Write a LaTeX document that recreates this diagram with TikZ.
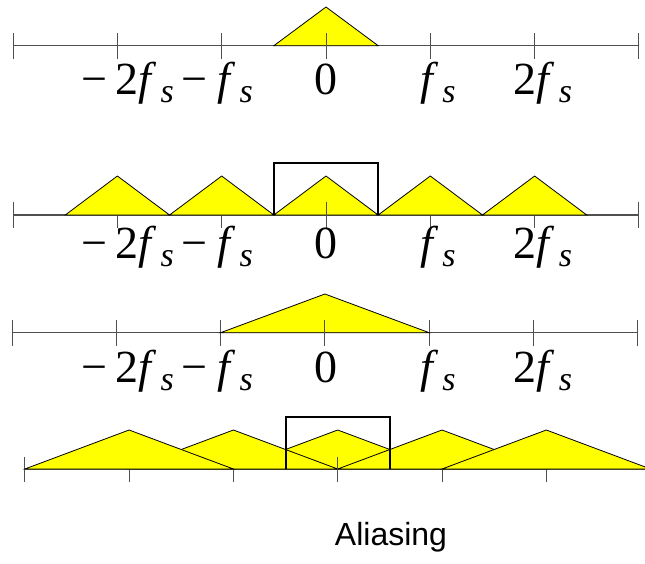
\documentclass[tikz,border=0pt]{standalone}
\usepackage{fontspec}
\setmainfont{Liberation Serif}
\newfontfamily\sansf{Liberation Sans}
\definecolor{yel}{RGB}{255,255,0}
\definecolor{axc}{RGB}{80,80,80}
\newcommand{\fsub}{\textit{f}\hspace{4pt}\raisebox{-8pt}{\fontsize{34}{34}\selectfont\textit{s}}}
\newcommand{\labrow}[2]{%
  \node[lab] (#1a) at (81.5,#2) {−\hspace{8pt}2\fsub};
  \node[lab] (#1b) at (181.5,#2) {−\hspace{10pt}\fsub};
  \node[lab] (#1c) at (314,#2) {0};
  \node[lab] (#1d) at (420,#2) {\fsub};
  \node[lab] (#1e) at (513.5,#2) {2\fsub};
}
\begin{document}
\begin{tikzpicture}[x=1pt,y=-1pt,
  lab/.style={font=\fontsize{46}{46}\selectfont, inner sep=0pt, anchor=base west},
  ax/.style={draw=axc, line width=1.2pt},
  tck/.style={draw=axc, line width=1pt},
  tri/.style={fill=yel, draw=black, line width=0.8pt, line join=miter},
  win/.style={draw=black, line width=2pt}]
\useasboundingbox (0,0) rectangle (645,563);

% ---------- Row 1 ----------
\draw[ax] (13.1,45.7) -- (638.9,45.7);
\foreach \x in {13.1,117.4,221.7,430.3,534.6,638.9}
  \draw[tck] (\x,33) -- (\x,59);
\filldraw[tri] (273.85,45.7) -- (326,7) -- (378.15,45.7) -- cycle;
\draw[tck] (326,33) -- (326,59);
\labrow{r1}{94}

% ---------- Row 2 ----------
\draw[ax] (13.1,215) -- (638.9,215);
\foreach \x in {13.1,117.4,221.7,326,430.3,534.6,638.9}
  \draw[tck] (\x,202) -- (\x,228);
\foreach \c in {117.4,221.7,326,430.3,534.6}
  \filldraw[tri] (\c-52.15,215) -- (\c,176) -- (\c+52.15,215) -- cycle;
\draw[tck] (326,202) -- (326,228);
\draw[win] (273.85,215) -- (273.85,162.7) -- (378.15,162.7) -- (378.15,215);
\labrow{r2}{258}

% ---------- Row 3 ----------
\draw[ax] (12.0,332.7) -- (637.8,332.7);
\foreach \x in {12.0,116.3,220.6,429.2,533.5,637.8}
  \draw[tck] (\x,320) -- (\x,346);
\filldraw[tri] (220.6,332.7) -- (324.9,294) -- (429.2,332.7) -- cycle;
\draw[tck] (324.9,320) -- (324.9,346);
\labrow{r3}{382}

% ---------- Row 4 ----------
\draw[ax] (24.8,469) -- (645,469);
\draw[tck] (24.8,456.7) -- (24.8,482);
\foreach \x in {129.1,233.4,442,546.3}
  \draw[tck] (\x,469) -- (\x,482);
\foreach \c in {337.7,233.4,442,129.1,546.3}
  \filldraw[tri] (\c-104.3,469) -- (\c,430) -- (\c+104.3,469) -- cycle;
\draw[tck] (337.7,456.7) -- (337.7,482);
\draw[win] (285.55,469) -- (285.55,416.7) -- (389.85,416.7) -- (389.85,469);

\node[font=\sansf\fontsize{32}{32}\selectfont, inner sep=0pt, anchor=base] (cap) at (391,545) {Aliasing};
\end{tikzpicture}
\end{document}
